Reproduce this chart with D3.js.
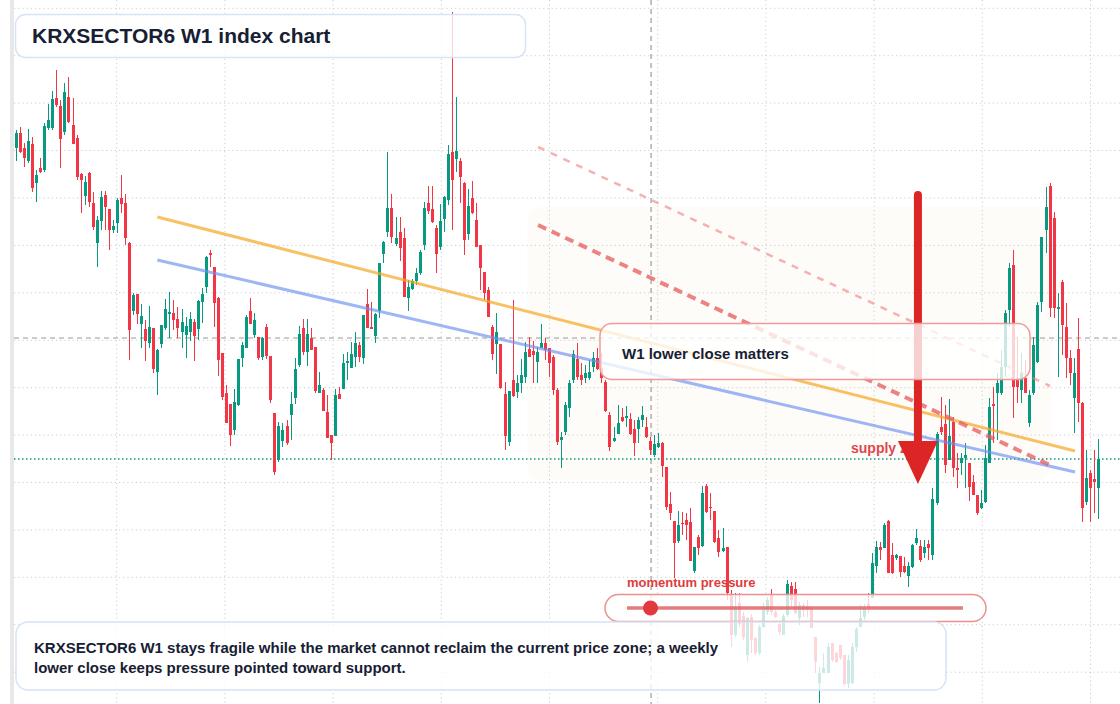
<!DOCTYPE html>
<html>
<head>
<meta charset="utf-8">
<script src="https://cdn.jsdelivr.net/npm/d3@7"></script>
<style>
  html, body { margin: 0; padding: 0; background: #fff; }
  svg { display: block; font-family: "Liberation Sans", Arial, Helvetica, sans-serif; }
</style>
</head>
<body>
<div id="chart"></div>
<script>
// ##################################
// KRXSECTOR6 weekly candles + annotations
// ##################################

// Weekly OHLC (index points), oldest first
const opens = [
  852,867,852,839,856,817,832,830,872,872, 902,894,868,903,875,862,826,804,827,797,
  757,779,805,791,770,777,802,797,757,689, 706,676,671,657,672,628,656,672,686,687,
  681,668,665,668,678,671,698,713,747,733, 702,647,607,596,570,595,642,652,689,665,
  663,643,673,644,587,540,
  559,574,585,602,635,672,648,662,653,607, 610,588,565,564,606,611,637,632,643,655,
  642,696,673,664,689,746,768,792,756,768, 762,702,711,719,727,755,797,791,772,753,
  781,800,848,841,839,817,766,802,780,755, 728,710,673,656,656,606,558,620,608,617,
  623,651,649,638,652,657,652,
  643,610,560,568,592,620,641,625,622,622, 633,642,632,618,585,559,566,583,582,581,
  571,571,580,573,559,545,553,557,533,496,
  479,459,477,480,478,429,463,454,514,493, 489,462,449,453,406,365,397,384,345,383,
  362,347,373,388,405,388,376,365,385,414, 411,382,395,394,392,363,317,327,327,357,
  347,355,345,316,317,353,373,383,396,402, 434,453,452,479,445,442,444,434,424,433,
  457,
  454,447,456,445,497,573,576,540,578,532, 537,542,537,518,505,492,498,537,596,607,
  607,633,690,735,622,610,622,577,607,638, 698,770,814,782,691,718,673,642,602,651,
  597,498,527,521,512
];
const highs = [
  870,873,857,871,863,830,842,877,896,909, 930,900,917,923,902,865,827,824,828,808,
  784,809,809,791,780,802,825,806,758,707, 706,696,680,694,672,651,675,701,708,700,
  693,691,683,688,681,700,712,744,750,733, 703,647,615,596,611,641,658,685,702,687,
  663,663,676,644,587,578,
  577,580,608,642,674,681,681,672,653,628, 612,605,565,611,613,646,648,658,668,658,
  685,711,698,687,737,759,848,806,783,783, 772,720,721,732,750,798,814,814,775,796,
  804,855,988,903,842,818,811,819,797,755, 728,713,675,687,656,618,609,700,625,641,
  658,663,659,653,676,662,652,
  645,612,568,598,620,650,657,637,635,640, 648,652,647,620,588,573,595,592,594,587,
  580,583,594,583,563,565,567,558,533,508,
  479,489,488,487,492,453,465,514,516,507, 489,470,472,453,410,407,407,388,383,386,
  363,375,397,403,411,390,377,386,420,418, 418,398,397,400,394,363,333,347,357,357,
  348,355,345,345,357,373,395,396,407,447, 459,458,477,480,457,446,444,443,438,456,
  471,
  460,460,460,512,568,603,595,601,583,547, 547,557,537,525,505,510,555,602,613,627,
  650,690,737,750,663,647,640,610,663,698, 763,813,817,788,707,720,697,650,642,682,
  598,550,530,550,561
];
const lows = [
  839,847,833,837,808,798,827,828,870,870, 893,832,865,877,856,820,787,795,793,770,
  733,770,770,750,767,767,787,755,640,685, 676,652,639,652,627,605,652,670,662,670,
  662,652,642,659,639,660,677,707,733,673, 624,600,577,554,565,594,633,652,676,662,
  640,640,641,597,525,538,
  553,555,560,596,633,645,634,650,607,607, 589,562,540,564,601,611,620,632,633,638,
  636,672,671,657,682,737,763,757,754,739, 703,689,710,715,725,750,786,777,727,750,
  768,795,770,828,797,745,760,786,753,710, 700,683,640,626,611,550,554,603,602,607,
  617,643,617,617,652,640,623,
  605,555,532,565,583,617,620,615,617,620, 628,630,617,588,549,558,566,578,573,565,
  544,557,573,562,545,543,552,523,490,480,
  422,457,465,460,439,427,445,453,487,480, 457,443,448,400,353,363,373,360,338,347,
  345,345,372,385,385,382,365,365,383,394, 386,375,383,383,372,327,297,327,327,338,
  337,340,315,312,316,348,373,380,387,402, 427,440,452,427,426,440,423,427,413,432,
  455,
  438,442,440,440,495,565,527,540,523,512, 525,512,499,505,485,491,497,537,557,560,
  605,623,673,582,597,597,607,573,605,637, 688,747,683,682,623,645,622,615,567,578,
  478,495,478,487,481
];
const closes = [
  867,848,842,859,812,825,828,874,880,901, 895,861,908,878,856,823,820,818,798,773,
  780,803,793,770,774,800,796,762,670,705, 686,684,659,673,631,650,675,691,688,680,
  672,678,674,681,664,699,706,743,745,697, 640,603,577,565,598,641,655,683,676,680,
  642,662,644,600,528,574,
  570,557,596,631,666,648,666,650,609,615, 589,562,557,605,601,637,639,646,657,643,
  685,672,671,686,737,758,792,763,762,752, 703,713,719,727,748,792,789,778,746,779,
  803,846,820,849,823,760,794,787,753,732, 707,683,646,668,612,564,609,604,617,625,
  648,643,645,648,657,650,637,
  610,558,563,595,617,646,623,620,627,628, 642,631,622,589,553,562,577,579,584,566,
  557,580,585,563,550,556,557,534,493,487,
  457,475,476,475,439,453,452,507,488,492, 458,448,452,407,365,393,376,363,382,360,
  347,373,390,400,388,383,368,384,416,400, 387,395,390,390,372,338,327,332,353,340,
  338,342,316,340,353,371,382,392,392,437, 453,450,475,427,427,445,428,428,434,455,
  462,
  440,453,452,501,566,568,535,564,532,530, 542,545,513,505,487,497,542,593,594,617,
  633,687,732,613,613,627,607,605,655,695, 763,793,692,692,693,675,642,627,627,597,
  492,522,512,518,541
];

// Annotation values: [start week, start price, end week, end price]
const orangeTrend = [35, 783, 262.3, 549];
const blueTrend = [35, 740, 262.3, 528];
const upperChannel = [129.3, 853, 256.1, 614];
const lowerChannel = [129.3, 775, 256.6, 534];
// supply zone: [first week, last week, top price, bottom price]
const supplyZone = [126.6, 256.6, 793, 520];
// levels
const pivotLevel = 662;
const supportLevel = 541;
const markerWeek = 157.3;
// arrow: [week, from price, to price]
const downArrow = [223.4, 805, 516];
const momentumValue = 0.07;

const titleText = "KRXSECTOR6 W1 index chart";
const noteLines = [
  "KRXSECTOR6 W1 stays fragile while the market cannot reclaim the current price zone; a weekly",
  "lower close keeps pressure pointed toward support."
];

const w = 1120;
const h = 704;
const upColor = "#089981";
const downColor = "#f23645";

const svg = d3.select("#chart")
  .append("svg")
  .attr("width", w)
  .attr("height", h);

const xScale = d3.scaleLinear()
  .domain([0, opens.length - 1])
  .range([16, 1098]);

const yScale = d3.scaleLinear()
  .domain([296, 1000])
  .range([h, 0]);

// left axis strip
svg.append("rect")
  .attr("x", 10).attr("y", 0)
  .attr("width", 4).attr("height", h)
  .attr("fill", "#e8e8e8");

// supply zone background
svg.append("rect")
  .attr("x", xScale(supplyZone[0]))
  .attr("y", yScale(supplyZone[2]))
  .attr("width", xScale(supplyZone[1]) - xScale(supplyZone[0]))
  .attr("height", yScale(supplyZone[3]) - yScale(supplyZone[2]))
  .attr("rx", 14)
  .attr("fill", "#fbefe3")
  .attr("fill-opacity", 0.2);

// grid
const gridPrices = d3.range(0, 15).map(k => 991.7 - 47.42 * k);
const gridWeeks = d3.range(0, 10).map(k => 24.94 + 26.8 * k);

svg.append("g")
  .selectAll("line")
  .data(gridPrices)
  .enter()
  .append("line")
    .attr("x1", 14).attr("x2", w)
    .attr("y1", d => yScale(d)).attr("y2", d => yScale(d))
    .attr("stroke", "#c9cdd3")
    .attr("stroke-dasharray", "1.2,3");

svg.append("g")
  .selectAll("line")
  .data(gridWeeks)
  .enter()
  .append("line")
    .attr("x1", d => xScale(d)).attr("x2", d => xScale(d))
    .attr("y1", 0).attr("y2", h)
    .attr("stroke", "#c9cdd3")
    .attr("stroke-dasharray", "1.2,3");

// reference levels
svg.append("line")
  .attr("x1", 14).attr("x2", w)
  .attr("y1", yScale(pivotLevel)).attr("y2", yScale(pivotLevel))
  .attr("stroke", "#9a9a9a")
  .attr("stroke-width", 1.2)
  .attr("stroke-dasharray", "5,4");

svg.append("line")
  .attr("x1", xScale(markerWeek)).attr("x2", xScale(markerWeek))
  .attr("y1", 0).attr("y2", h)
  .attr("stroke", "#9a9a9a")
  .attr("stroke-width", 1.2)
  .attr("stroke-dasharray", "5,4");

svg.append("line")
  .attr("x1", 14).attr("x2", w)
  .attr("y1", yScale(supportLevel)).attr("y2", yScale(supportLevel))
  .attr("stroke", upColor)
  .attr("stroke-width", 1.5)
  .attr("stroke-dasharray", "1.5,2.5");

// candles
const candles = opens.map((o, i) => ({ i: i, o: o, h: highs[i], l: lows[i], c: closes[i] }));

const cg = svg.append("g").attr("shape-rendering", "crispEdges");

cg.selectAll("line")
  .data(candles)
  .enter()
  .append("line")
    .attr("x1", d => Math.round(xScale(d.i)) + 0.5)
    .attr("x2", d => Math.round(xScale(d.i)) + 0.5)
    .attr("y1", d => yScale(d.h))
    .attr("y2", d => yScale(d.l))
    .attr("stroke", d => d.c >= d.o ? upColor : downColor)
    .attr("stroke-width", 1);

cg.selectAll("rect")
  .data(candles)
  .enter()
  .append("rect")
    .attr("x", d => Math.round(xScale(d.i)) - 1)
    .attr("width", 3)
    .attr("y", d => yScale(Math.max(d.o, d.c)))
    .attr("height", d => Math.max(1, Math.abs(yScale(d.o) - yScale(d.c))))
    .attr("fill", d => d.c >= d.o ? upColor : downColor);

// trend lines
function trend(t, color, width, opacity, dash) {
  const l = svg.append("line")
    .attr("x1", xScale(t[0])).attr("y1", yScale(t[1]))
    .attr("x2", xScale(t[2])).attr("y2", yScale(t[3]))
    .attr("stroke", color)
    .attr("stroke-width", width)
    .attr("stroke-opacity", opacity);
  if (dash) l.attr("stroke-dasharray", dash);
  return l;
}

trend(orangeTrend, "#f5a623", 3, 0.7);
trend(blueTrend, "#6b8ff0", 3, 0.65);
trend(upperChannel, "#ee7f7f", 2.5, 0.6, "7,7");
trend(lowerChannel, "#e65a5a", 4, 0.75, "9,6");

// supply zone label
svg.append("text")
  .attr("x", 851)
  .attr("y", 453)
  .attr("font-size", 14)
  .attr("font-weight", 700)
  .attr("fill", "#e0464c")
  .text("supply zone");

// down arrow
const ax = xScale(downArrow[0]);
const aTop = yScale(downArrow[1]);
const aTip = yScale(downArrow[2]);
svg.append("line")
  .attr("x1", ax).attr("x2", ax)
  .attr("y1", aTop).attr("y2", aTip - 40)
  .attr("stroke", "#dc2626")
  .attr("stroke-width", 8)
  .attr("stroke-linecap", "round");
svg.append("path")
  .attr("d", `M${ax - 20},${aTip - 43} L${ax + 20},${aTip - 43} L${ax},${aTip} Z`)
  .attr("fill", "#dc2626");

// callout box
svg.append("rect")
  .attr("x", 600).attr("y", 323.5)
  .attr("width", 430).attr("height", 56)
  .attr("rx", 12)
  .attr("fill", "#fff").attr("fill-opacity", 0.78)
  .attr("stroke", "#f09a9a").attr("stroke-width", 1.5);
svg.append("text")
  .attr("x", 622).attr("y", 359)
  .attr("font-size", 15)
  .attr("font-weight", 700)
  .attr("fill", "#172033")
  .text("W1 lower close matters");

// momentum gauge
svg.append("text")
  .attr("x", 627).attr("y", 587)
  .attr("font-size", 13)
  .attr("font-weight", 700)
  .attr("fill", "#e03c3c")
  .text("momentum pressure");
svg.append("rect")
  .attr("x", 605).attr("y", 594.5)
  .attr("width", 381).attr("height", 27)
  .attr("rx", 13.5)
  .attr("fill", "#fff").attr("fill-opacity", 0.78)
  .attr("stroke", "#ef8f8f").attr("stroke-width", 1.5);
const gauge = d3.scaleLinear().domain([0, 1]).range([627, 963]);
svg.append("line")
  .attr("x1", gauge(0)).attr("x2", gauge(1))
  .attr("y1", 608).attr("y2", 608)
  .attr("stroke", "#e05a5a").attr("stroke-opacity", 0.8)
  .attr("stroke-width", 3.5);
svg.append("circle")
  .attr("cx", gauge(momentumValue)).attr("cy", 608)
  .attr("r", 7.5)
  .attr("fill", "#e0393e");

// bottom note
svg.append("rect")
  .attr("x", 16).attr("y", 622)
  .attr("width", 930).attr("height", 68)
  .attr("rx", 12)
  .attr("fill", "#fff").attr("fill-opacity", 0.8)
  .attr("stroke", "#d6e4f5").attr("stroke-width", 1.5);
svg.append("g")
  .selectAll("text")
  .data(noteLines)
  .enter()
  .append("text")
    .attr("x", 34)
    .attr("y", (d, i) => 653 + i * 20)
    .attr("font-size", 15)
    .attr("font-weight", 700)
    .attr("fill", "#172033")
    .text(d => d);

// title
svg.append("rect")
  .attr("x", 15.5).attr("y", 14.5)
  .attr("width", 510).attr("height", 43)
  .attr("rx", 10)
  .attr("fill", "#fff").attr("fill-opacity", 0.78)
  .attr("stroke", "#d6e4f5").attr("stroke-width", 1.5);
svg.append("text")
  .attr("x", 32).attr("y", 43)
  .attr("font-size", 21)
  .attr("font-weight", 700)
  .attr("fill", "#172033")
  .text(titleText);
</script>
</body>
</html>
